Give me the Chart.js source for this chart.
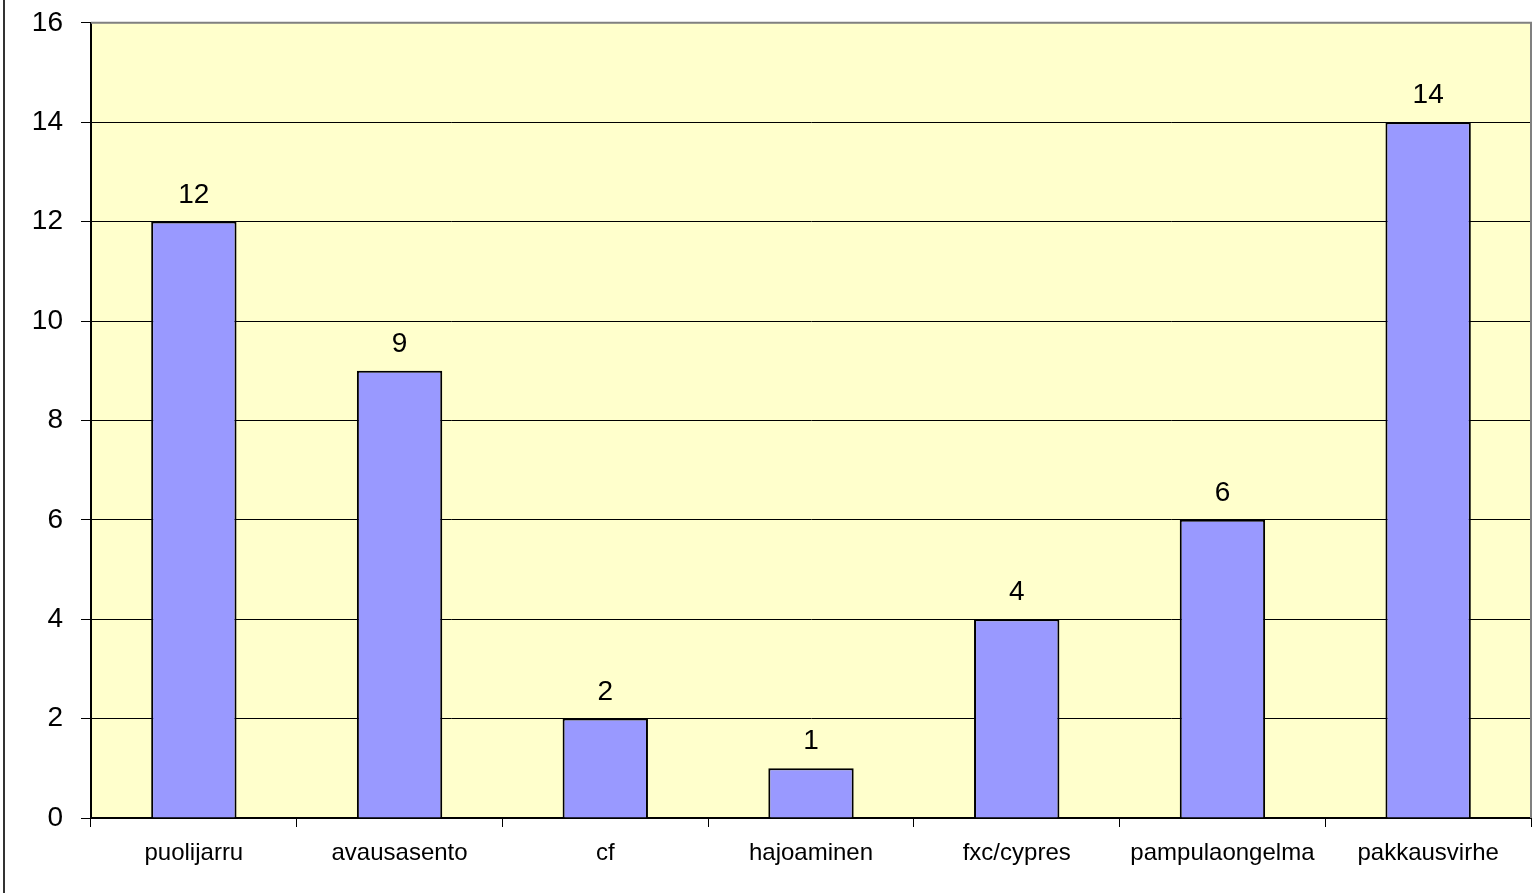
<!DOCTYPE html>
<html>
<head>
<meta charset="utf-8">
<script src="https://cdn.jsdelivr.net/npm/chart.js@4.4.1/dist/chart.umd.min.js"></script>
<style>
  html, body { margin: 0; padding: 0; background: #fff; overflow: hidden; }
  #wrap { width: 1535px; height: 893px; overflow: hidden; position: relative; }
  #chart { position: absolute; left: 0; top: -12px; }
</style>
</head>
<body>
<div id="wrap"><canvas id="chart" width="1535" height="905"></canvas></div>
<script>
// data
const categories = ["puolijarru", "avausasento", "cf", "hajoaminen", "fxc/cypres", "pampulaongelma", "pakkausvirhe"];
const counts = [12, 9, 2, 1, 4, 6, 14];
const yTicks = [0, 2, 4, 6, 8, 10, 12, 14, 16];

const FONT = "'Liberation Sans', Arial, sans-serif";

// yellow plot background, grey top/right border and the left frame line
const framePlugin = {
  id: "frame",
  beforeDraw(chart) {
    const { ctx, chartArea: a } = chart;
    ctx.save();
    ctx.fillStyle = "#FFFFCC";
    ctx.fillRect(a.left, a.top, a.right - a.left, a.bottom - a.top);
    ctx.restore();
  },
  afterDraw(chart) {
    const { ctx, chartArea: a } = chart;
    ctx.save();
    ctx.strokeStyle = "#808080";
    ctx.lineWidth = 2;
    ctx.beginPath();
    ctx.moveTo(a.left, a.top);
    ctx.lineTo(a.right, a.top);
    ctx.lineTo(a.right, a.bottom);
    ctx.stroke();
    ctx.strokeStyle = "#333";
    ctx.lineWidth = 2;
    ctx.beginPath();
    ctx.moveTo(4, 0);
    ctx.lineTo(4, chart.height);
    ctx.stroke();
    ctx.restore();
  }
};

// value labels above bars
const valueLabels = {
  id: "valueLabels",
  afterDatasetsDraw(chart) {
    const { ctx } = chart;
    const meta = chart.getDatasetMeta(0);
    ctx.save();
    ctx.fillStyle = "#000";
    ctx.font = "28px " + FONT;
    ctx.textAlign = "center";
    ctx.textBaseline = "alphabetic";
    meta.data.forEach((bar, i) => {
      ctx.fillText(String(counts[i]), bar.x, bar.y - 19);
    });
    ctx.restore();
  }
};

new Chart(document.getElementById("chart"), {
  type: "bar",
  data: {
    labels: categories,
    datasets: [{
      data: counts,
      backgroundColor: "#9999FF",
      borderColor: "#000",
      borderWidth: 2,
      barPercentage: 0.415,
      categoryPercentage: 1
    }]
  },
  options: {
    responsive: false,
    animation: false,
    layout: { padding: { top: 0, right: 4, left: 0, bottom: 0 } },
    plugins: { legend: { display: false }, tooltip: { enabled: false } },
    scales: {
      x: {
        offset: true,
        grid: { display: true, offset: true, drawOnChartArea: false, drawTicks: true, tickLength: 9, color: "#000", lineWidth: 1 },
        border: { display: true, color: "#000", width: 2 },
        ticks: { color: "#000", font: { family: FONT, size: 24 }, padding: 12, maxRotation: 0, autoSkip: false },
        afterFit(scale) { scale.height = 75; }
      },
      y: {
        min: 0,
        max: 16,
        afterBuildTicks(scale) { scale.ticks = yTicks.map(v => ({ value: v })); },
        grid: { color: "#000", lineWidth: 1, tickLength: 10, drawTicks: true },
        border: { display: true, color: "#000", width: 2 },
        ticks: { color: "#000", font: { family: FONT, size: 28 }, padding: 18 },
        afterFit(scale) { scale.width = 91; }
      }
    }
  },
  plugins: [framePlugin, valueLabels]
});
</script>
</body>
</html>
